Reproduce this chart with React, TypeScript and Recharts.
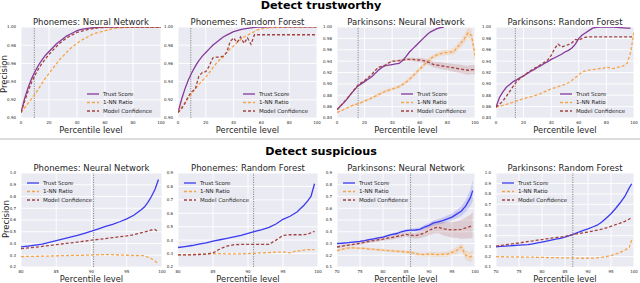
import React from 'react';
import { ComposedChart, Line, Area, XAxis, YAxis, CartesianGrid, ReferenceLine, Legend } from 'recharts';

const FONT = '"DejaVu Sans", "Liberation Sans", sans-serif';
const seriesNames = ['Trust Score', '1-NN Ratio', 'Model Confidence'];
const panelTitles = [
  'Phonemes: Neural Network', 'Phonemes: Random Forest', 'Parkinsons: Neural Network', 'Parkinsons: Random Forest',
];
const rowTitles = ['Detect trustworthy', 'Detect suspicious'];
const xLabel = 'Percentile level';
const yLabel = 'Precision';

// ---------- top row (trustworthy) ----------
const topX = [0, 2.5, 5, 7.5, 10, 12.5, 15, 17.5, 20, 22.5, 25, 27.5, 30, 32.5, 35, 37.5, 40, 42.5, 45, 47.5, 50, 52.5, 55, 57.5, 60, 62.5, 65, 67.5, 70, 72.5, 75, 77.5, 80, 82.5, 85, 87.5, 90, 92.5, 95, 97.5, 100];
const topXTicks = [0, 20, 40, 60, 80, 100];
const topYTicksA = [0.9, 0.92, 0.94, 0.96, 0.98, 1.0];
const topYTicksB = [0.84, 0.86, 0.88, 0.9, 0.92, 0.94, 0.96, 0.98, 1.0];

const p1Trust = [0.906, 0.921, 0.933, 0.943, 0.951, 0.958, 0.964, 0.969, 0.973, 0.977, 0.981, 0.984, 0.987, 0.99, 0.992, 0.994, 0.996, 0.997, 0.998, 0.9985, 0.999, 0.9993, 0.9995, 0.9997, 1, 1, 1, 1, 1, 1, 1, 1, 1, 1, 1, 1, 1, 1, 1, 1, 1];
const p1Knn = [0.906, 0.911, 0.916, 0.921, 0.926, 0.932, 0.938, 0.944, 0.949, 0.954, 0.959, 0.964, 0.968, 0.972, 0.976, 0.979, 0.982, 0.985, 0.987, 0.989, 0.991, 0.993, 0.994, 0.995, 0.996, 0.997, 0.998, 0.9985, 0.999, 0.9993, 0.9995, 0.9997, 1, 1, 1, 1, 1, 1, 1, 1, 1];
const p1Conf = [0.906, 0.918, 0.929, 0.939, 0.947, 0.954, 0.96, 0.965, 0.97, 0.974, 0.978, 0.982, 0.985, 0.988, 0.99, 0.992, 0.994, 0.995, 0.996, 0.997, 0.998, 0.9985, 0.999, 0.9993, 0.9995, 0.9997, 1, 1, 1, 1, 1, 1, 1, 1, 1, 1, 1, 1, 1, 1, 1];

const p2Trust = [0.906, 0.92, 0.932, 0.942, 0.95, 0.957, 0.963, 0.968, 0.972, 0.976, 0.98, 0.983, 0.986, 0.989, 0.991, 0.993, 0.995, 0.996, 0.997, 0.998, 0.9985, 0.999, 0.9995, 0.9998, 1, 1, 1, 1, 1, 1, 1, 1, 1, 1, 1, 1, 1, 1, 1, 1, 1];
const p2Knn = [0.906, 0.912, 0.917, 0.922, 0.927, 0.932, 0.937, 0.941, 0.945, 0.95, 0.955, 0.96, 0.964, 0.967, 0.972, 0.976, 0.979, 0.983, 0.986, 0.989, 0.991, 0.993, 0.995, 0.997, 0.998, 0.9985, 0.999, 0.9993, 0.9995, 0.9997, 1, 1, 1, 1, 1, 1, 1, 1, 1, 1, 1];
const p2Conf = [0.906, 0.91, 0.916, 0.924, 0.929, 0.932, 0.946, 0.95, 0.951, 0.957, 0.966, 0.967, 0.967, 0.968, 0.972, 0.984, 0.988, 0.983, 0.989, 0.982, 0.988, 0.981, 0.9915, 0.9915, 0.9915, 0.9915, 0.9915, 0.9915, 0.9915, 0.9915, 0.9915, 0.9915, 0.9915, 0.9915, 0.9915, 0.9915, 0.9915, 0.9915, 0.9915, 0.9915, 0.9915];

const p3Trust = [0.8545, 0.861, 0.867, 0.874, 0.882, 0.889, 0.896, 0.9, 0.904, 0.908, 0.912, 0.918, 0.924, 0.929, 0.932, 0.933, 0.934, 0.935, 0.936, 0.941, 0.948, 0.956, 0.962, 0.968, 0.974, 0.98, 0.986, 0.991, 0.994, 0.997, 0.999, 1, null, null, null, null, null, null, null, null, null];
const p3Knn = [0.85, 0.852, 0.855, 0.858, 0.861, 0.863, 0.865, 0.867, 0.87, 0.872, 0.875, 0.878, 0.881, 0.884, 0.887, 0.889, 0.891, 0.893, 0.895, 0.899, 0.903, 0.908, 0.914, 0.92, 0.926, 0.932, 0.938, 0.944, 0.948, 0.951, 0.953, 0.955, 0.955, 0.956, 0.958, 0.965, 0.972, 0.98, 0.99, 0.985, 0.95];
const p3KnnBand = [0.001, 0.001, 0.001, 0.001, 0.001, 0.002, 0.002, 0.002, 0.002, 0.002, 0.002, 0.003, 0.003, 0.003, 0.003, 0.003, 0.003, 0.003, 0.003, 0.003, 0.003, 0.004, 0.004, 0.004, 0.004, 0.004, 0.004, 0.004, 0.004, 0.004, 0.004, 0.005, 0.005, 0.005, 0.006, 0.006, 0.007, 0.008, 0.009, 0.01, 0.012];
const p3Conf = [0.8545, 0.861, 0.868, 0.875, 0.882, 0.89, 0.897, 0.902, 0.906, 0.911, 0.916, 0.923, 0.929, 0.931, 0.933, 0.937, 0.94, 0.94, 0.941, 0.942, 0.943, 0.943, 0.943, 0.942, 0.942, 0.941, 0.939, 0.937, 0.934, 0.933, 0.932, 0.931, 0.93, 0.929, 0.928, 0.927, 0.926, 0.925, 0.924, 0.925, 0.925];
const p3ConfBand = [0.001, 0.001, 0.001, 0.001, 0.001, 0.001, 0.001, 0.001, 0.001, 0.001, 0.001, 0.001, 0.001, 0.001, 0.001, 0.001, 0.0015, 0.0015, 0.002, 0.002, 0.0025, 0.003, 0.003, 0.0035, 0.004, 0.004, 0.0045, 0.005, 0.005, 0.0055, 0.006, 0.006, 0.0065, 0.0065, 0.007, 0.007, 0.0075, 0.0075, 0.008, 0.008, 0.008];

const p4Trust = [0.859, 0.876, 0.886, 0.894, 0.899, 0.904, 0.907, 0.911, 0.914, 0.918, 0.922, 0.925, 0.929, 0.932, 0.936, 0.939, 0.943, 0.946, 0.949, 0.952, 0.956, 0.959, 0.963, 0.97, 0.98, 0.986, 0.99, 0.994, 0.998, 0.9995, 1, 1, 1, 1, 1, 0.9995, 0.999, 0.9985, 0.998, 0.998, null];
const p4Knn = [0.859, 0.861, 0.862, 0.864, 0.866, 0.868, 0.87, 0.872, 0.874, 0.876, 0.877, 0.879, 0.881, 0.883, 0.886, 0.889, 0.891, 0.893, 0.895, 0.897, 0.899, 0.902, 0.906, 0.911, 0.916, 0.921, 0.923, 0.924, 0.925, 0.926, 0.927, 0.927, 0.93, 0.928, 0.927, 0.929, 0.93, 0.932, 0.936, 0.955, 0.991];
const p4Conf = [0.859, 0.864, 0.87, 0.878, 0.887, 0.896, 0.904, 0.91, 0.914, 0.919, 0.923, 0.927, 0.93, 0.934, 0.938, 0.942, 0.95, 0.962, 0.97, 0.965, 0.967, 0.969, 0.972, 0.978, 0.977, 0.98, 0.982, 0.9825, 0.9825, 0.9825, 0.9825, 0.9825, 0.9825, 0.9825, 0.9825, 0.9825, 0.9825, 0.9825, 0.9825, 0.9825, 0.9825];

// ---------- bottom row (suspicious) ----------
const p56X = [80, 81, 82, 83, 84, 85, 86, 87, 88, 89, 90, 91, 92, 93, 94, 95, 96, 97, 97.5, 98, 98.5, 99, 99.5];
const p78X = [70, 71, 72, 73, 74, 75, 76, 77, 78, 79, 80, 81, 82, 83, 84, 85, 86, 87, 88, 89, 90, 91, 92, 93, 94, 95, 96, 97, 98, 99, 99.5];
const p56XTicks = [80, 85, 90, 95, 100];
const p78XTicks = [70, 75, 80, 85, 90, 95, 100];
const p5YTicks = [0.2, 0.3, 0.4, 0.5, 0.6, 0.7, 0.8, 0.9, 1.0];
const p6YTicks = [0.2, 0.3, 0.4, 0.5, 0.6, 0.7, 0.8, 0.9];
const p7YTicks = [0.1, 0.2, 0.3, 0.4, 0.5, 0.6, 0.7, 0.8, 0.9];
const p8YTicks = [0.1, 0.2, 0.3, 0.4, 0.5, 0.6, 0.7, 0.8, 0.9, 1.0];

const p5Trust = [0.371, 0.378, 0.386, 0.395, 0.41, 0.425, 0.44, 0.455, 0.47, 0.487, 0.505, 0.525, 0.545, 0.563, 0.585, 0.61, 0.64, 0.685, 0.71, 0.75, 0.8, 0.86, 0.945];
const p5Knn = [0.289, 0.29, 0.291, 0.292, 0.293, 0.295, 0.297, 0.298, 0.299, 0.3, 0.302, 0.304, 0.306, 0.305, 0.302, 0.3, 0.298, 0.297, 0.296, 0.283, 0.27, 0.25, 0.225];
const p5Conf = [0.357, 0.362, 0.368, 0.375, 0.383, 0.39, 0.398, 0.405, 0.412, 0.42, 0.428, 0.435, 0.442, 0.45, 0.457, 0.465, 0.475, 0.49, 0.497, 0.505, 0.515, 0.52, 0.495];

const p6Trust = [0.345, 0.352, 0.36, 0.37, 0.38, 0.392, 0.403, 0.414, 0.424, 0.435, 0.45, 0.465, 0.478, 0.495, 0.52, 0.555, 0.578, 0.61, 0.635, 0.66, 0.69, 0.725, 0.82];
const p6Knn = [0.29, 0.292, 0.294, 0.296, 0.298, 0.3, 0.3, 0.298, 0.297, 0.298, 0.3, 0.302, 0.305, 0.307, 0.31, 0.312, 0.305, 0.322, 0.318, 0.325, 0.33, 0.328, 0.33];
const p6Conf = [0.29, 0.29, 0.291, 0.293, 0.296, 0.305, 0.335, 0.355, 0.366, 0.368, 0.368, 0.368, 0.368, 0.369, 0.4, 0.435, 0.44, 0.44, 0.44, 0.441, 0.443, 0.455, 0.465];

const p7Trust = [0.3, 0.302, 0.306, 0.31, 0.314, 0.318, 0.325, 0.333, 0.34, 0.348, 0.355, 0.366, 0.378, 0.385, 0.4, 0.41, 0.413, 0.415, 0.42, 0.44, 0.455, 0.475, 0.485, 0.495, 0.51, 0.525, 0.55, 0.575, 0.62, 0.69, 0.75];
const p7TrustBand = [0.005, 0.005, 0.005, 0.006, 0.006, 0.006, 0.007, 0.007, 0.008, 0.008, 0.009, 0.009, 0.01, 0.01, 0.011, 0.012, 0.013, 0.014, 0.016, 0.018, 0.02, 0.022, 0.024, 0.026, 0.028, 0.03, 0.035, 0.04, 0.05, 0.07, 0.09];
const p7Knn = [0.24, 0.25, 0.26, 0.263, 0.262, 0.26, 0.258, 0.253, 0.25, 0.247, 0.243, 0.24, 0.237, 0.234, 0.232, 0.228, 0.225, 0.215, 0.207, 0.206, 0.21, 0.207, 0.205, 0.208, 0.21, 0.225, 0.24, 0.27, 0.2, 0.185, 0.205];
const p7KnnBand = [0.01, 0.01, 0.01, 0.01, 0.01, 0.01, 0.01, 0.01, 0.01, 0.01, 0.012, 0.012, 0.012, 0.012, 0.012, 0.015, 0.015, 0.015, 0.015, 0.015, 0.02, 0.02, 0.02, 0.02, 0.02, 0.025, 0.03, 0.035, 0.04, 0.045, 0.045];
const p7Conf = [0.27, 0.277, 0.284, 0.29, 0.296, 0.302, 0.31, 0.318, 0.325, 0.332, 0.338, 0.345, 0.352, 0.36, 0.368, 0.377, 0.372, 0.365, 0.375, 0.39, 0.41, 0.43, 0.44, 0.425, 0.42, 0.415, 0.418, 0.42, 0.432, 0.445, 0.455];
const p7ConfBand = [0.01, 0.01, 0.01, 0.011, 0.011, 0.012, 0.012, 0.013, 0.014, 0.015, 0.015, 0.016, 0.017, 0.018, 0.019, 0.02, 0.022, 0.025, 0.03, 0.035, 0.04, 0.045, 0.05, 0.055, 0.06, 0.065, 0.07, 0.08, 0.09, 0.1, 0.11];

const p8Trust = [0.293, 0.297, 0.3, 0.303, 0.306, 0.309, 0.312, 0.315, 0.322, 0.33, 0.338, 0.347, 0.357, 0.366, 0.375, 0.385, 0.4, 0.418, 0.435, 0.45, 0.465, 0.483, 0.5, 0.53, 0.57, 0.61, 0.66, 0.715, 0.775, 0.86, 0.897];
const p8Knn = [0.2, 0.199, 0.198, 0.197, 0.196, 0.196, 0.195, 0.195, 0.194, 0.193, 0.192, 0.191, 0.19, 0.189, 0.188, 0.188, 0.187, 0.186, 0.185, 0.184, 0.184, 0.185, 0.187, 0.193, 0.2, 0.21, 0.223, 0.24, 0.26, 0.29, 0.36];
const p8Conf = [0.3, 0.306, 0.312, 0.318, 0.324, 0.33, 0.337, 0.344, 0.35, 0.357, 0.363, 0.37, 0.376, 0.382, 0.387, 0.393, 0.403, 0.413, 0.42, 0.428, 0.435, 0.443, 0.452, 0.462, 0.475, 0.49, 0.505, 0.52, 0.537, 0.56, 0.575];

const vlines = [9.5, 9.2, 15.3, 14, 90.3, 90.8, 86, 86.7];

// ---------- styling ----------
const PURPLE = '#86399c';
const BLUE = '#3a3aef';
const ORANGE = '#f6a448';
const BROWN = '#a3423f';
const BG = '#EAEAF2';
const TXT = '#262626';

type Bands = { trust?: number[]; knn?: number[]; conf?: number[] };

function makeRows(xs: number[], trust: (number | null)[], knn: number[], conf: number[], bands: Bands = {}) {
  return xs.map((x, i) => {
    const t = trust[i];
    return {
      x,
      trust: t,
      knn: knn[i],
      conf: conf[i],
      trustBand: bands.trust && t != null ? [t - bands.trust[i], t + bands.trust[i]] : undefined,
      knnBand: bands.knn ? [knn[i] - bands.knn[i], knn[i] + bands.knn[i]] : undefined,
      confBand: bands.conf ? [conf[i] - bands.conf[i], conf[i] + bands.conf[i]] : undefined,
    };
  });
}

const L = 20, T = 2, R = 6, B = 10;

type PanelDef = {
  left: number; top: number; w: number; h: number;
  xDomain: [number, number]; xTicks: number[];
  yDomain: [number, number]; yTicks: number[]; yDigits: number;
  rows: any[]; trustColor: string; vline: number; legendBottom: boolean;
  title: string; bands: Bands;
};

const LegendBox = ({ trustColor }: { trustColor: string }) => {
  const items = [
    { name: seriesNames[0], color: trustColor, dash: undefined as string | undefined },
    { name: seriesNames[1], color: ORANGE, dash: '3 2' },
    { name: seriesNames[2], color: BROWN, dash: '3 2' },
  ];
  return (
    <svg width={92} height={28} style={{ display: 'block', overflow: 'visible' }}>
      {items.map((it, i) => (
        <g key={i}>
          <line x1={0} x2={12} y1={4 + i * 8.5} y2={4 + i * 8.5} stroke={it.color} strokeWidth={1.3} strokeDasharray={it.dash} />
          <text x={16} y={4 + i * 8.5} dy="0.35em" fontSize={5.5} fill={TXT} fontFamily={FONT}>{it.name}</text>
        </g>
      ))}
    </svg>
  );
};

function Panel({ p }: { p: PanelDef }) {
  const W = p.w + L + R;
  const H = p.h + T + B;
  const lx = p.legendBottom ? L + p.w - 74 : L + 6;
  const ly = p.legendBottom ? T + p.h - 28 : T + 5.5;
  const tickStyle = { fontSize: 4, fill: TXT, fontFamily: FONT };
  return (
    <div style={{ position: 'absolute', left: p.left - L, top: p.top - T, width: W, height: H }}>
      <ComposedChart width={W} height={H} data={p.rows} margin={{ top: T, right: R, left: 0, bottom: 0 }}>
        <CartesianGrid stroke="#ffffff" strokeWidth={0.9} fill={BG} fillOpacity={1} />
        <XAxis type="number" dataKey="x" domain={p.xDomain} ticks={p.xTicks} interval={0} allowDataOverflow
          height={B} axisLine={false} tickLine={false} tickSize={0} tickMargin={3} tick={tickStyle} />
        <YAxis type="number" domain={p.yDomain} ticks={p.yTicks} interval={0} allowDataOverflow
          width={L} axisLine={false} tickLine={false} tickSize={0} tickMargin={5} tick={tickStyle}
          tickFormatter={(v: number) => v.toFixed(p.yDigits)} />
        {p.bands.trust && <Area dataKey="trustBand" stroke="none" fill={p.trustColor} fillOpacity={0.18} isAnimationActive={false} legendType="none" />}
        {p.bands.knn && <Area dataKey="knnBand" stroke="none" fill={ORANGE} fillOpacity={0.2} isAnimationActive={false} legendType="none" />}
        {p.bands.conf && <Area dataKey="confBand" stroke="none" fill={BROWN} fillOpacity={0.18} isAnimationActive={false} legendType="none" />}
        <ReferenceLine x={p.vline} stroke="#8a8a8a" strokeWidth={1} strokeDasharray="1.2 1.2" />
        <Line dataKey="trust" name={seriesNames[0]} stroke={p.trustColor} strokeWidth={1.3} dot={false} isAnimationActive={false} />
        <Line dataKey="knn" name={seriesNames[1]} stroke={ORANGE} strokeWidth={1.3} strokeDasharray="3 2" dot={false} isAnimationActive={false} />
        <Line dataKey="conf" name={seriesNames[2]} stroke={BROWN} strokeWidth={1.3} strokeDasharray="3 2" dot={false} isAnimationActive={false} />
        <Legend layout="vertical" align="center" verticalAlign="middle"
          wrapperStyle={{ left: lx, top: ly, width: 92, height: 28 }}
          content={() => <LegendBox trustColor={p.trustColor} />} />
      </ComposedChart>
    </div>
  );
}

const topLefts = [21, 178, 337, 496];
const topWidths = [140, 139, 138, 138];
const botWidths = [141, 140, 138, 138];

const panels: PanelDef[] = [
  { left: topLefts[0], top: 27, w: topWidths[0], h: 91, xDomain: [0, 100], xTicks: topXTicks, yDomain: [0.9, 1.0], yTicks: topYTicksA, yDigits: 2,
    rows: makeRows(topX, p1Trust, p1Knn, p1Conf), trustColor: PURPLE, vline: vlines[0], legendBottom: true, title: panelTitles[0], bands: {} },
  { left: topLefts[1], top: 27, w: topWidths[1], h: 91, xDomain: [0, 100], xTicks: topXTicks, yDomain: [0.9, 1.0], yTicks: topYTicksA, yDigits: 2,
    rows: makeRows(topX, p2Trust, p2Knn, p2Conf), trustColor: PURPLE, vline: vlines[1], legendBottom: true, title: panelTitles[1], bands: {} },
  { left: topLefts[2], top: 27, w: topWidths[2], h: 91, xDomain: [0, 100], xTicks: topXTicks, yDomain: [0.84, 1.0], yTicks: topYTicksB, yDigits: 2,
    rows: makeRows(topX, p3Trust, p3Knn, p3Conf, { knn: p3KnnBand, conf: p3ConfBand }), trustColor: PURPLE, vline: vlines[2], legendBottom: true, title: panelTitles[2], bands: { knn: p3KnnBand, conf: p3ConfBand } },
  { left: topLefts[3], top: 27, w: topWidths[3], h: 91, xDomain: [0, 100], xTicks: topXTicks, yDomain: [0.84, 1.0], yTicks: topYTicksB, yDigits: 2,
    rows: makeRows(topX, p4Trust, p4Knn, p4Conf), trustColor: PURPLE, vline: vlines[3], legendBottom: true, title: panelTitles[3], bands: {} },
  { left: topLefts[0], top: 173, w: botWidths[0], h: 94, xDomain: [80, 100], xTicks: p56XTicks, yDomain: [0.2, 1.0], yTicks: p5YTicks, yDigits: 1,
    rows: makeRows(p56X, p5Trust, p5Knn, p5Conf), trustColor: BLUE, vline: vlines[4], legendBottom: false, title: panelTitles[0], bands: {} },
  { left: topLefts[1], top: 173, w: botWidths[1], h: 94, xDomain: [80, 100], xTicks: p56XTicks, yDomain: [0.2, 0.9], yTicks: p6YTicks, yDigits: 1,
    rows: makeRows(p56X, p6Trust, p6Knn, p6Conf), trustColor: BLUE, vline: vlines[5], legendBottom: false, title: panelTitles[1], bands: {} },
  { left: topLefts[2], top: 173, w: botWidths[2], h: 94, xDomain: [70, 100], xTicks: p78XTicks, yDomain: [0.1, 0.9], yTicks: p7YTicks, yDigits: 1,
    rows: makeRows(p78X, p7Trust, p7Knn, p7Conf, { trust: p7TrustBand, knn: p7KnnBand, conf: p7ConfBand }), trustColor: BLUE, vline: vlines[6], legendBottom: false, title: panelTitles[2], bands: { trust: p7TrustBand, knn: p7KnnBand, conf: p7ConfBand } },
  { left: topLefts[3], top: 173, w: botWidths[3], h: 94, xDomain: [70, 100], xTicks: p78XTicks, yDomain: [0.1, 1.0], yTicks: p8YTicks, yDigits: 1,
    rows: makeRows(p78X, p8Trust, p8Knn, p8Conf), trustColor: BLUE, vline: vlines[7], legendBottom: false, title: panelTitles[3], bands: {} },
];

const abs = (s: React.CSSProperties): React.CSSProperties => ({ position: 'absolute', fontFamily: FONT, color: TXT, whiteSpace: 'nowrap', ...s });

export default function App() {
  return (
    <div style={{ position: 'fixed', left: 0, top: 0, width: 640, height: 283, background: '#fff', overflow: 'hidden' }}>
      <div style={abs({ left: 0, width: 642, top: 0, textAlign: 'center', fontSize: 11.2, lineHeight: '11.2px', fontWeight: 'bold', color: '#000' })}>{rowTitles[0]}</div>
      <div style={abs({ left: 0, width: 642, top: 145.5, textAlign: 'center', fontSize: 11.2, lineHeight: '11.2px', fontWeight: 'bold', color: '#000' })}>{rowTitles[1]}</div>
      <div style={{ position: 'absolute', left: 0, top: 138, width: 640, height: 2, background: '#dcdcdc' }} />
      {panels.map((p, i) => (
        <React.Fragment key={i}>
          <Panel p={p} />
          <div style={abs({ left: p.left, width: p.w, top: p.top - 9, textAlign: 'center', fontSize: 8.5, lineHeight: '8.5px' })}>{p.title}</div>
          <div style={abs({ left: p.left, width: p.w, top: p.top + p.h + 8, textAlign: 'center', fontSize: 8.3, lineHeight: '8.3px' })}>{xLabel}</div>
        </React.Fragment>
      ))}
      <div style={abs({ left: 4, top: 73.5, fontSize: 8.5, lineHeight: '8.5px', transform: 'translate(-50%, -50%) rotate(-90deg)' })}>{yLabel}</div>
      <div style={abs({ left: 6, top: 219, fontSize: 8.5, lineHeight: '8.5px', transform: 'translate(-50%, -50%) rotate(-90deg)' })}>{yLabel}</div>
    </div>
  );
}
